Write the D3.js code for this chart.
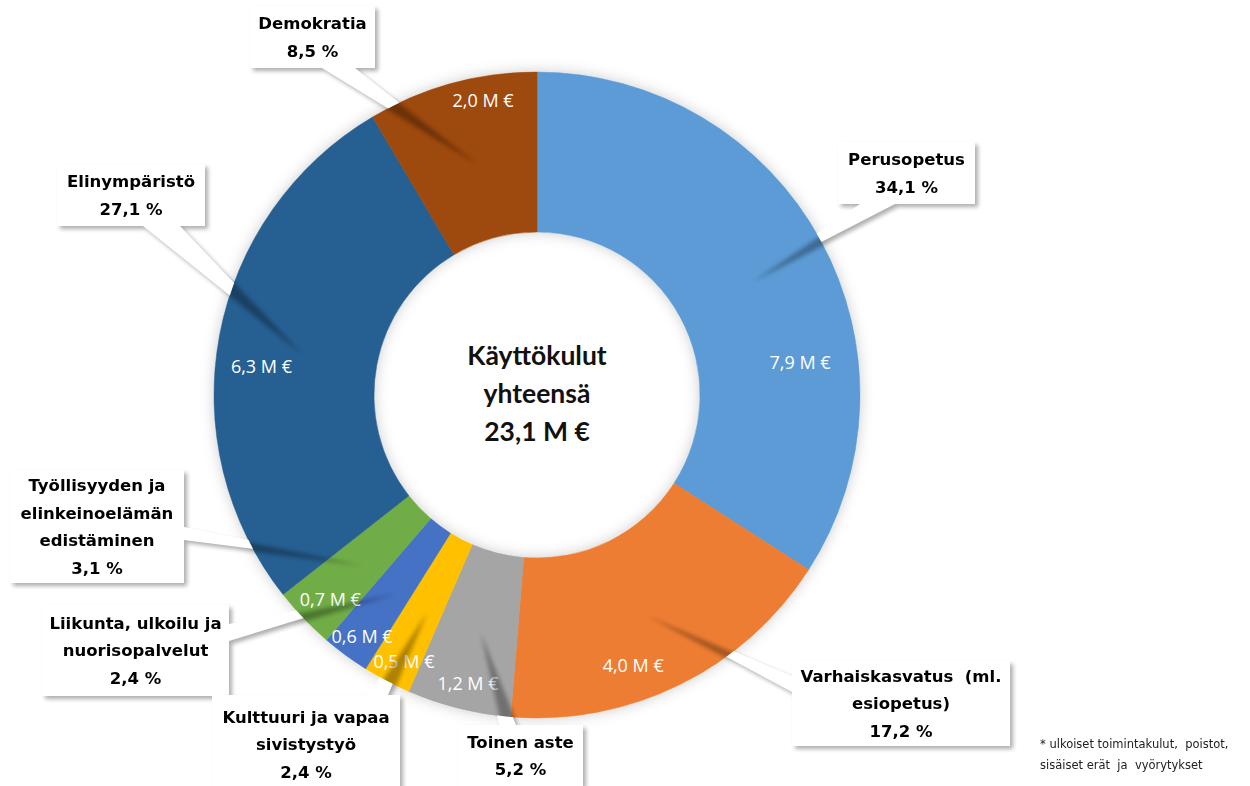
<!DOCTYPE html>
<html>
<head>
<meta charset="utf-8">
<script src="https://cdn.jsdelivr.net/npm/d3@7"></script>
<style>
  body { margin: 0; background: #ffffff; }
  svg { display: block; }
  text { white-space: pre; }
</style>
</head>
<body>
<svg id="chart" width="1250" height="786"></svg>
<script>
// data
const categories = ["Perusopetus", "Varhaiskasvatus (ml. esiopetus)", "Toinen aste",
  "Kulttuuri ja vapaa sivistystyö", "Liikunta, ulkoilu ja nuorisopalvelut",
  "Työllisyyden ja elinkeinoelämän edistäminen", "Elinympäristö", "Demokratia"];
const shares = [34.1, 17.2, 5.2, 2.4, 2.4, 3.1, 27.1, 8.5];
const amounts = [7.9, 4.0, 1.2, 0.5, 0.6, 0.7, 6.3, 2.0];
const nameLines = [
  ["Perusopetus"],
  ["Varhaiskasvatus  (ml.", "esiopetus)"],
  ["Toinen aste"],
  ["Kulttuuri ja vapaa", "sivistystyö"],
  ["Liikunta, ulkoilu ja", "nuorisopalvelut"],
  ["Työllisyyden ja", "elinkeinoelämän", "edistäminen"],
  ["Elinympäristö"],
  ["Demokratia"]
];
const colors = ["#5b9bd5", "#ed7d31", "#a5a5a5", "#ffc000", "#4472c4", "#70ad47", "#255e91", "#9e480e"];
const centerLines = ["Käyttökulut", "yhteensä", "23,1 M €"];
const footnote = ["* ulkoiset toimintakulut,  poistot,", "sisäiset erät  ja  vyörytykset"];

const fmt = v => d3.format(".1f")(v).replace(".", ",");

// layout
const cx = 537, cy = 395, rOuter = 323, rInner = 163;
// callout boxes [x0, y0, x1, y1] and tail base points
const boxes = [
  {b: [838, 142, 975, 204], base: [[860, 204], [895, 204]]},
  {b: [792, 661, 1010, 746], base: [[792, 676], [792, 692]]},
  {b: [458, 725, 583, 786], base: [[499, 725], [516, 725]]},
  {b: [212, 695, 400, 790], base: [[368, 695], [388, 695]]},
  {b: [42, 605, 229, 696], base: [[229, 624], [229, 641]]},
  {b: [10, 470, 184, 583], base: [[184, 527], [184, 540]]},
  {b: [57, 164, 205, 226], base: [[143, 226], [180, 226]]},
  {b: [250, 6, 375, 68], base: [[322, 68], [355, 68]]}
];
// value label nudges: angle shift (deg) and radius
const valShift = [21.7, 6.7, -0.6, -1.2, -0.4, -1.0, -4.8, 4.9];
const valRadius = [265, 287, 297, 298, 298, 291, 277, 299];

const svg = d3.select("#chart");
const defs = svg.append("defs");

let halo = defs.append("filter").attr("id", "halo")
  .attr("x", "-20%").attr("y", "-20%").attr("width", "140%").attr("height", "140%");
halo.append("feDropShadow").attr("dx", 0).attr("dy", 0)
  .attr("stdDeviation", 7).attr("flood-color", "#000").attr("flood-opacity", 0.2);

let blur = defs.append("filter").attr("id", "blur")
  .attr("x", "-20%").attr("y", "-20%").attr("width", "140%").attr("height", "140%");
blur.append("feGaussianBlur").attr("stdDeviation", 2.2);

let mask = defs.append("mask").attr("id", "outside");
mask.append("rect").attr("width", 1250).attr("height", 786).attr("fill", "#fff");
mask.append("circle").attr("cx", cx).attr("cy", cy).attr("r", rOuter).attr("fill", "#000");

const pie = d3.pie().sort(null).value(d => d);
const arcs = pie(shares);
const arc = d3.arc().innerRadius(rInner).outerRadius(rOuter);

const g = svg.append("g").attr("transform", `translate(${cx},${cy})`);

// donut
g.append("g").attr("filter", "url(#halo)")
  .selectAll("path")
  .data(arcs).enter()
  .append("path")
  .attr("d", arc)
  .attr("fill", (d, i) => colors[i])
  .attr("stroke", (d, i) => colors[i])
  .attr("stroke-width", 0.5);

// callout shape: box + tail pointing at slice centroid
function calloutPath(i) {
  const c = arc.centroid(arcs[i]);
  const tip = [cx + c[0], cy + c[1]];
  const [x0, y0, x1, y1] = boxes[i].b;
  const [p1, p2] = boxes[i].base;
  return `M${x0},${y0}H${x1}V${y1}H${x0}Z` +
    `M${p1[0]},${p1[1]}L${tip[0]},${tip[1]}L${p2[0]},${p2[1]}Z`;
}

// shadows of callouts
svg.append("g").attr("filter", "url(#blur)").attr("opacity", 0.32)
  .selectAll("path")
  .data(arcs).enter()
  .append("path")
  .attr("d", (d, i) => calloutPath(i))
  .attr("transform", "translate(3,3)")
  .attr("fill", "#000");

// white callouts, kept outside the ring
svg.append("g").attr("mask", "url(#outside)")
  .selectAll("path")
  .data(arcs).enter()
  .append("path")
  .attr("d", (d, i) => calloutPath(i))
  .attr("fill", "#fff");
// boxes fully white on top
svg.append("g")
  .selectAll("rect")
  .data(boxes).enter()
  .append("rect")
  .attr("x", d => d.b[0]).attr("y", d => d.b[1])
  .attr("width", d => d.b[2] - d.b[0]).attr("height", d => d.b[3] - d.b[1])
  .attr("fill", "#fff");

// callout texts
const lh = 27.5;
boxes.forEach((bx, i) => {
  const lines = nameLines[i].concat([fmt(shares[i]) + " %"]);
  const mx = (bx.b[0] + bx.b[2]) / 2;
  const my = (bx.b[1] + bx.b[3]) / 2;
  const top = i === 3 ? 717 : my - (lines.length - 1) * lh / 2;
  const t = svg.append("text")
    .attr("text-anchor", "middle")
    .style("font-family", "'DejaVu Sans', sans-serif")
    .style("font-weight", 700)
    .style("font-size", "16.5px")
    .style("fill", "#000");
  lines.forEach((l, k) => {
    t.append("tspan").attr("x", mx).attr("y", top + k * lh).attr("dy", "0.35em").text(l);
  });
});

// value labels in slices
g.selectAll("text.val")
  .data(arcs).enter()
  .append("text")
  .attr("class", "val")
  .attr("transform", (d, i) => {
    const a = (d.startAngle + d.endAngle) / 2 + valShift[i] * Math.PI / 180;
    const p = d3.pointRadial(a, valRadius[i]);
    return `translate(${p[0]},${p[1]})`;
  })
  .attr("text-anchor", "middle")
  .attr("dy", "0.35em")
  .style("font-family", "'Open Sans', sans-serif")
  .style("font-size", "18px")
  .style("fill", "#fff")
  .text((d, i) => fmt(amounts[i]) + " M €");

// centre text
const ct = g.append("text")
  .attr("text-anchor", "middle")
  .style("font-family", "Lato, 'Open Sans', sans-serif")
  .style("font-weight", 700)
  .style("font-size", "26.5px")
  .style("fill", "#111");
centerLines.forEach((l, k) => {
  ct.append("tspan").attr("x", 0).attr("y", (k - 1) * 38 - 1).attr("dy", "0.35em").text(l);
});

// footnote
const ft = svg.append("text")
  .style("font-family", "'DejaVu Sans', sans-serif")
  .style("font-size", "11.5px")
  .style("fill", "#222");
footnote.forEach((l, k) => {
  ft.append("tspan").attr("x", 1040).attr("y", 748 + k * 21).text(l);
});
</script>
</body>
</html>
